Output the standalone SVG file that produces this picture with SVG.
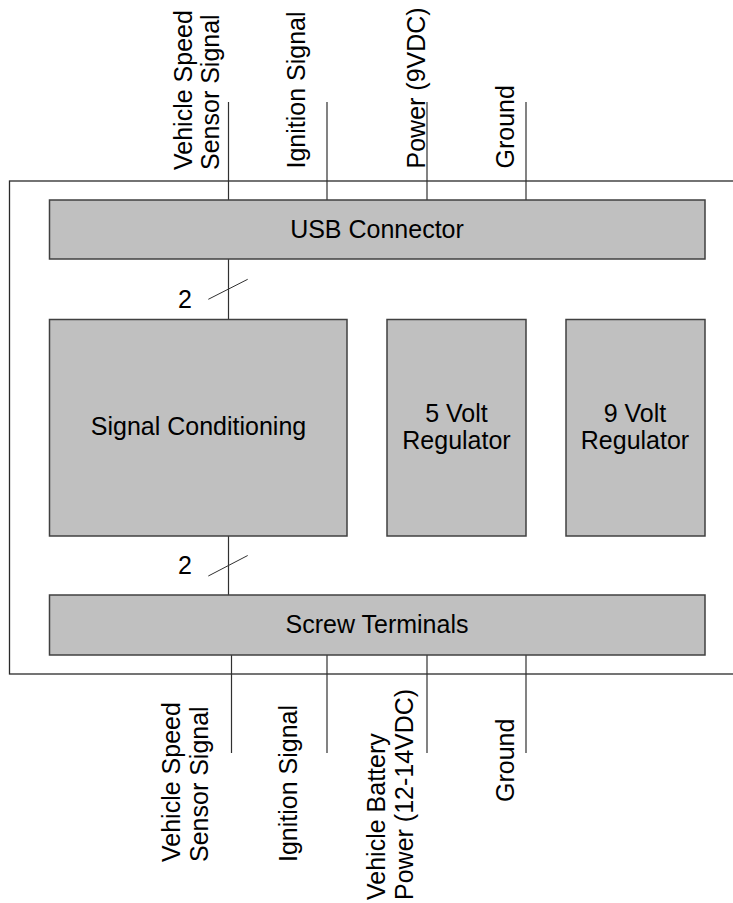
<svg xmlns="http://www.w3.org/2000/svg" width="733" height="903" viewBox="0 0 733 903">
  <style>
    .block { fill: #c0c0c0; stroke: #404040; stroke-width: 1.5; }
    .frame { fill: #ffffff; stroke: #2a2a2a; stroke-width: 1.3; }
    .wire { stroke: #303030; stroke-width: 1.2; fill: none; }
    .tick { stroke: #303030; stroke-width: 1; fill: none; }
    .lbl { font-family: "Liberation Sans", Arial, sans-serif; font-size: 25px; fill: #000000; }
    .mid { text-anchor: middle; }
  </style>

  <!-- enclosure outline (open towards the right edge) -->
  <rect class="frame" x="9.5" y="181" width="740" height="493"/>

  <!-- wiring between blocks and to the outside -->
  <g id="connectors">
    <!-- USB side inputs -->
    <line class="wire" x1="228.5" y1="102" x2="228.5" y2="200"/>
    <line class="wire" x1="327" y1="102" x2="327" y2="200"/>
    <line class="wire" x1="427" y1="102" x2="427" y2="200"/>
    <line class="wire" x1="526" y1="102" x2="526" y2="200"/>
    <!-- USB to signal conditioning, 2-wire bus -->
    <line class="wire" x1="228.5" y1="259" x2="228.5" y2="319"/>
    <line class="tick" x1="208.3" y1="299.3" x2="247.7" y2="279.3"/>
    <!-- signal conditioning to screw terminals, 2-wire bus -->
    <line class="wire" x1="228.5" y1="536" x2="228.5" y2="595"/>
    <line class="tick" x1="208.3" y1="576" x2="247.7" y2="555.5"/>
    <!-- screw terminal outputs -->
    <line class="wire" x1="231.5" y1="655" x2="231.5" y2="753"/>
    <line class="wire" x1="327" y1="655" x2="327" y2="753"/>
    <line class="wire" x1="427" y1="655" x2="427" y2="753"/>
    <line class="wire" x1="526" y1="655" x2="526" y2="753"/>
  </g>

  <!-- bus width labels -->
  <g id="bus-widths">
    <text class="lbl mid" x="185" y="307.5">2</text>
    <text class="lbl mid" x="185" y="573.5">2</text>
  </g>

  <g id="usb-connector">
    <rect class="block" x="49.5" y="200" width="655.5" height="59"/>
    <text class="lbl mid" x="377" y="237.5">USB Connector</text>
  </g>

  <g id="signal-conditioning">
    <rect class="block" x="49.5" y="319.5" width="297.5" height="216.5"/>
    <text class="lbl mid" x="198.5" y="435">Signal Conditioning</text>
  </g>

  <g id="regulator-5v">
    <rect class="block" x="387" y="319.5" width="139" height="216.5"/>
    <text class="lbl mid" x="456.5" y="421.5">5 Volt</text>
    <text class="lbl mid" x="456.5" y="448.5">Regulator</text>
  </g>

  <g id="regulator-9v">
    <rect class="block" x="566" y="319.5" width="139" height="216.5"/>
    <text class="lbl mid" x="635" y="421.5">9 Volt</text>
    <text class="lbl mid" x="635" y="448.5">Regulator</text>
  </g>

  <g id="screw-terminals">
    <rect class="block" x="49.5" y="595" width="655.5" height="60"/>
    <text class="lbl mid" x="377" y="632.5">Screw Terminals</text>
  </g>

  <!-- signal names on the USB side -->
  <g id="usb-signal-names">
    <text class="lbl" transform="translate(191.5,170) rotate(-90)">Vehicle Speed</text>
    <text class="lbl" transform="translate(219,170) rotate(-90)">Sensor Signal</text>
    <text class="lbl" transform="translate(305,168.5) rotate(-90)">Ignition Signal</text>
    <text class="lbl" transform="translate(424.5,168.5) rotate(-90)">Power (9VDC)</text>
    <text class="lbl" transform="translate(514,168.5) rotate(-90)">Ground</text>
  </g>

  <!-- signal names on the vehicle side -->
  <g id="vehicle-signal-names">
    <text class="lbl" transform="translate(180,862) rotate(-90)">Vehicle Speed</text>
    <text class="lbl" transform="translate(208,862) rotate(-90)">Sensor Signal</text>
    <text class="lbl" transform="translate(296.5,862) rotate(-90)">Ignition Signal</text>
    <text class="lbl" transform="translate(384.5,900) rotate(-90)">Vehicle Battery</text>
    <text class="lbl" transform="translate(413,900) rotate(-90)">Power (12-14VDC)</text>
    <text class="lbl" transform="translate(514,802) rotate(-90)">Ground</text>
  </g>
</svg>
